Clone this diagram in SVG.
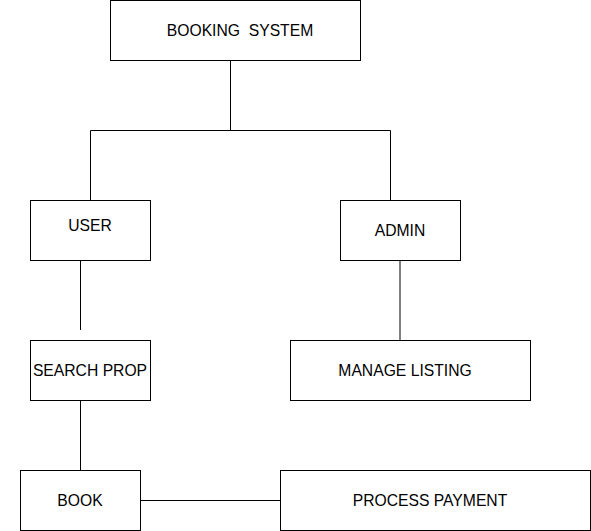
<svg xmlns="http://www.w3.org/2000/svg" width="591" height="531" viewBox="0 0 591 531">
<style>
.box{fill:#fff;stroke:#000;stroke-width:1}
.lbl{font-family:"Liberation Sans",Arial,Helvetica,sans-serif;font-size:15.7px;fill:#000;text-anchor:middle}
.conn{fill:none;stroke:#000;stroke-width:1}
</style>
<rect width="591" height="531" fill="#fff"/>
<g id="connectors">
<path class="conn" d="M230.5,60.5 V130.5 M90.5,130.5 H390.5 M90.5,130.5 V200.5 M390.5,130.5 V200.5"/>
<path class="conn" d="M80.5,260.5 V330"/>
<path class="conn" d="M400,260.5 V340.5"/>
<path class="conn" d="M80.5,400.5 V470.5"/>
<path class="conn" d="M140.5,500.5 H280.5"/>
</g>
<g id="booking-system">
<rect class="box" x="110.5" y="0.5" width="250" height="60"/>
<text class="lbl" x="240" y="36" xml:space="preserve">BOOKING  SYSTEM</text>
</g>
<g id="user">
<rect class="box" x="30.5" y="200.5" width="120" height="60"/>
<text class="lbl" x="90" y="231">USER</text>
</g>
<g id="admin">
<rect class="box" x="340.5" y="200.5" width="120" height="60"/>
<text class="lbl" x="400" y="236">ADMIN</text>
</g>
<g id="search-prop">
<rect class="box" x="30.5" y="340.5" width="120" height="60"/>
<text class="lbl" x="90" y="376">SEARCH PROP</text>
</g>
<g id="manage-listing">
<rect class="box" x="290.5" y="340.5" width="240" height="60"/>
<text class="lbl" x="405" y="376">MANAGE LISTING</text>
</g>
<g id="book">
<rect class="box" x="20.5" y="470.5" width="120" height="60"/>
<text class="lbl" x="80" y="506">BOOK</text>
</g>
<g id="process-payment">
<rect class="box" x="280.5" y="470.5" width="310" height="60"/>
<text class="lbl" x="430" y="506">PROCESS PAYMENT</text>
</g>
</svg>
